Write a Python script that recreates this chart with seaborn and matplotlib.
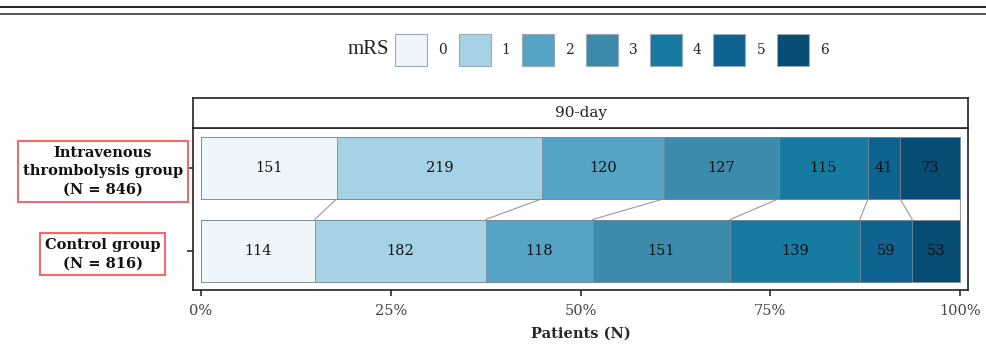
import pandas as pd
import numpy as np
import matplotlib
matplotlib.use("Agg")
import matplotlib.pyplot as plt
from matplotlib.patches import Patch
from matplotlib.lines import Line2D
import seaborn as sns

groups = ["Intravenous\nthrombolysis group\n(N = 846)", "Control group\n(N = 816)"]
mrs_levels = ["0", "1", "2", "3", "4", "5", "6"]
# counts shown as labels
ivt_counts = [151, 219, 120, 127, 115, 41, 73]
ctrl_counts = [114, 182, 118, 151, 139, 59, 53]
# segment widths (%) as drawn in the figure
ivt_pct = [17.9, 27.0, 16.1, 15.1, 11.8, 4.2, 7.9]
ctrl_pct = [15.0, 22.5, 14.1, 18.1, 17.1, 6.9, 6.3]
palette = ["#EEF6FB", "#A6D2E5", "#55A4C5", "#3D8BAB", "#167BA0", "#0E6390", "#074C73"]

sns.set_theme(style="white")
plt.rcParams["font.family"] = ["DejaVu Serif"]

df = pd.DataFrame({
    "group": np.repeat(groups, len(mrs_levels)),
    "mrs": mrs_levels * 2,
    "n": ivt_counts + ctrl_counts,
    "pct": ivt_pct + ctrl_pct,
})
df["cum"] = df.groupby("group")["pct"].cumsum()
df["mid"] = df["cum"] - df["pct"] / 2

fig = plt.figure(figsize=(9.87, 3.56), dpi=100)
ax = fig.add_axes([193/987, 1-290/356, 775/987, 162/356])
bw = 0.75

# stacked bars: draw cumulative bars from the last level to the first
for lvl, col in reversed(list(zip(mrs_levels, palette))):
    sub = df[df["mrs"] == lvl]
    sns.barplot(data=sub, x="cum", y="group", order=groups, orient="h",
                color=col, saturation=1, width=bw, edgecolor="#7a8a94",
                linewidth=0.6, errorbar=None, ax=ax)

# value labels
for _, r in df.iterrows():
    ax.text(r["mid"], groups.index(r["group"]), str(r["n"]), ha="center",
            va="center", fontsize=10.5, color="#111111")

# connecting lines between the two bars
top = df[df["group"] == groups[0]]["cum"].values
bot = df[df["group"] == groups[1]]["cum"].values
for a, b in zip(top, bot):
    ax.plot([a, b], [bw/2, 1 - bw/2], color="#9a9a9a", lw=0.8, zorder=0.5)

ax.set_xlim(-1.05, 101.05)
ax.set_ylim(1 + 0.476, -0.48)
ax.set_xticks([0, 25, 50, 75, 100])
ax.set_xticklabels(["0%", "25%", "50%", "75%", "100%"], color="#444444", fontsize=10.5)
ax.set_yticks([0, 1])
ax.set_yticklabels(groups, fontweight="bold", fontsize=10.5, ha="center",
                   multialignment="center", color="#111111", linespacing=1.4)
for t in ax.get_yticklabels():
    t.set_bbox(dict(facecolor="white", edgecolor="#F06A6A", linewidth=1.5, pad=3.5))
ax.tick_params(axis="y", length=4, color="#333333", pad=61, left=True)
ax.tick_params(axis="x", length=4, color="#333333", pad=6, bottom=True)
ax.set_xlabel("Patients (N)", fontweight="bold", fontsize=10.5, labelpad=6)
ax.set_ylabel("")
for s in ax.spines.values():
    s.set_color("#222222")
    s.set_linewidth(1.2)

# facet strip
sax = fig.add_axes([193/987, 1-128/356, 775/987, 30/356])
sax.set_xticks([])
sax.set_yticks([])
for s in sax.spines.values():
    s.set_color("#222222")
    s.set_linewidth(1.2)
sax.text(0.5, 0.5, "90-day", ha="center", va="center", fontsize=11,
         color="#222222", transform=sax.transAxes)

# legend
handles = [Patch(facecolor=c, edgecolor="#9aaab4", linewidth=0.8) for c in palette]
fig.legend(handles, mrs_levels, ncol=7, frameon=False, loc="center",
           bbox_to_anchor=(612/987, 1-50/356), fontsize=10,
           handlelength=2.3, handleheight=3.15, handletextpad=0.8,
           columnspacing=0.85)
fig.text(389/987, 1-50/356, "mRS", ha="right", va="center", fontsize=15,
         color="#222222", family=["Liberation Serif", "DejaVu Serif"])

# header rules
fig.add_artist(Line2D([0, 1], [1-7/356, 1-7/356], color="#222222", lw=1.4))
fig.add_artist(Line2D([0, 1], [1-14/356, 1-14/356], color="#555555", lw=1.4))

fig.savefig("out.png", dpi=100)
